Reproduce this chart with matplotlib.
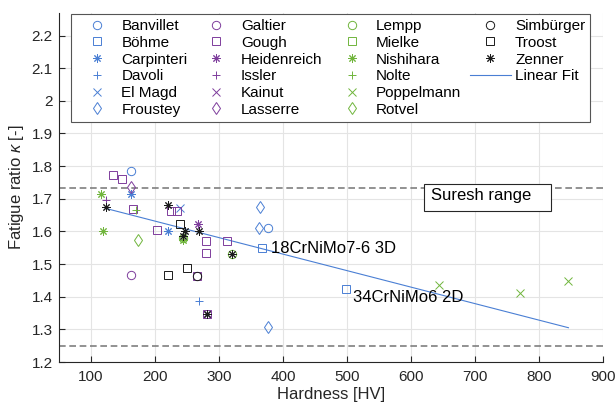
import matplotlib
matplotlib.use("Agg")
import matplotlib.pyplot as plt
from matplotlib.lines import Line2D
from matplotlib.patches import Rectangle

plt.rcParams['font.family'] = ['Liberation Sans', 'DejaVu Sans']
plt.rcParams['mathtext.fontset'] = 'custom'
plt.rcParams['mathtext.it'] = 'Liberation Sans:italic'
plt.rcParams['mathtext.rm'] = 'Liberation Sans'

# ---------------- data ----------------
banvillet_x = [162, 377]
banvillet_y = [1.785, 1.611]
boehme_x = [367, 499]
boehme_y = [1.548, 1.425]
carpinteri_x = [162, 220]
carpinteri_y = [1.715, 1.600]
davoli_x = [268]
davoli_y = [1.386]
elmagd_x = [239]
elmagd_y = [1.671]
froustey_x = [364, 363, 376]
froustey_y = [1.674, 1.611, 1.307]

galtier_x = [162]
galtier_y = [1.466]
gough_x = [135, 149, 165, 225, 235, 203, 280, 280, 312, 265, 282]
gough_y = [1.774, 1.762, 1.669, 1.664, 1.664, 1.603, 1.571, 1.535, 1.572, 1.463, 1.347]
heidenreich_x = [267, 282]
heidenreich_y = [1.622, 1.347]
issler_x = [123]
issler_y = [1.697]
kainut_x = []
kainut_y = []
lasserre_x = [162]
lasserre_y = [1.735]

lempp_x = [243, 320]
lempp_y = [1.580, 1.530]
mielke_x = []
mielke_y = []
nishihara_x = [116, 118, 243]
nishihara_y = [1.715, 1.600, 1.575]
nolte_x = [171]
nolte_y = [1.666]
poppelmann_x = [643, 771, 846]
poppelmann_y = [1.435, 1.410, 1.448]
rotvel_x = [174]
rotvel_y = [1.574]

simburger_x = [265]
simburger_y = [1.463]
troost_x = [239, 220, 250]
troost_y = [1.622, 1.466, 1.488]
zenner_x = [123, 221, 247, 268, 243, 320, 282]
zenner_y = [1.676, 1.682, 1.602, 1.602, 1.585, 1.530, 1.347]

fit_x = [122, 846]
fit_y = [1.671, 1.305]

suresh_low = 1.25
suresh_high = 1.733

x_ticks = [100, 200, 300, 400, 500, 600, 700, 800, 900]
y_ticks = [1.2, 1.3, 1.4, 1.5, 1.6, 1.7, 1.8, 1.9, 2.0, 2.1, 2.2]
y_tick_labels = ['1.2', '1.3', '1.4', '1.5', '1.6', '1.7', '1.8', '1.9', '2', '2.1', '2.2']

# ---------------- style ----------------
BLUE = '#4a7fd4'
PURPLE = '#7e3d9c'
GREEN = '#70b53c'
BLACK = '#1a1a1a'
AX = '#262626'
AST = (8, 2, 0)

series = [
    ('Banvillet', banvillet_x, banvillet_y, BLUE, 'o'),
    ('Böhme', boehme_x, boehme_y, BLUE, 's'),
    ('Carpinteri', carpinteri_x, carpinteri_y, BLUE, AST),
    ('Davoli', davoli_x, davoli_y, BLUE, '+'),
    ('El Magd', elmagd_x, elmagd_y, BLUE, 'x'),
    ('Froustey', froustey_x, froustey_y, BLUE, 'd'),
    ('Galtier', galtier_x, galtier_y, PURPLE, 'o'),
    ('Gough', gough_x, gough_y, PURPLE, 's'),
    ('Heidenreich', heidenreich_x, heidenreich_y, PURPLE, AST),
    ('Issler', issler_x, issler_y, PURPLE, '+'),
    ('Kainut', kainut_x, kainut_y, PURPLE, 'x'),
    ('Lasserre', lasserre_x, lasserre_y, PURPLE, 'd'),
    ('Lempp', lempp_x, lempp_y, GREEN, 'o'),
    ('Mielke', mielke_x, mielke_y, GREEN, 's'),
    ('Nishihara', nishihara_x, nishihara_y, GREEN, AST),
    ('Nolte', nolte_x, nolte_y, GREEN, '+'),
    ('Poppelmann', poppelmann_x, poppelmann_y, GREEN, 'x'),
    ('Rotvel', rotvel_x, rotvel_y, GREEN, 'd'),
    ('Simbürger', simburger_x, simburger_y, BLACK, 'o'),
    ('Troost', troost_x, troost_y, BLACK, 's'),
    ('Zenner', zenner_x, zenner_y, BLACK, AST),
]

fig = plt.figure(figsize=(6.16, 4.11), dpi=100)
ax = fig.add_axes([59 / 616, 1 - 362 / 411, 544 / 616, 349.3 / 411])

ax.set_xlim(50, 900)
ax.set_ylim(1.2, 2.27)

handles = []
labels = []
for name, xs, ys, col, mk in series:
    ms = 6.5 if mk == 'd' else 6
    h, = ax.plot(xs, ys, linestyle='none', marker=mk, markersize=ms,
                 markerfacecolor='none', markeredgecolor=col,
                 markeredgewidth=0.7, zorder=3)
    handles.append(h)
    labels.append(name)

hf, = ax.plot(fit_x, fit_y, color=BLUE, lw=0.8, zorder=2)
handles.append(hf)
labels.append('Linear Fit')
for _ in range(2):
    handles.append(Line2D([], [], linestyle='none'))
    labels.append('')

ax.axhline(suresh_high, color='#7f7f7f', lw=1.2, dashes=(4, 2.2), zorder=1)
ax.axhline(suresh_low, color='#7f7f7f', lw=1.2, dashes=(4, 2.2), zorder=1)

ax.add_patch(Rectangle((620.3, 1.664), 198.5, 0.082, facecolor='white',
                       edgecolor=AX, lw=0.8, zorder=4))
ax.text(631, 1.711, 'Suresh range', fontsize=12, va='center', ha='left',
        color='black', zorder=5)

ax.text(381, 1.548, '18CrNiMo7-6 3D', fontsize=12, va='center', ha='left',
        color='black', zorder=5)
ax.text(510, 1.399, '34CrNiMo6 2D', fontsize=12, va='center', ha='left',
        color='black', zorder=5)

ax.set_xticks(x_ticks)
ax.set_yticks(y_ticks)
ax.set_yticklabels(y_tick_labels)
ax.grid(True, color='#e4e4e4', lw=0.8, zorder=0)
ax.set_axisbelow(True)
for s in ['top', 'right']:
    ax.spines[s].set_visible(False)
for s in ['left', 'bottom']:
    ax.spines[s].set_color(AX)
    ax.spines[s].set_linewidth(0.8)
ax.tick_params(direction='in', length=4, width=0.8, color=AX,
               labelcolor=AX, labelsize=11)
ax.tick_params(axis='x', pad=6)
ax.tick_params(axis='y', pad=4.5)

ax.set_xlabel('Hardness [HV]', fontsize=12, color=AX, labelpad=2)
ax.set_ylabel(r'Fatigue ratio $\kappa$ [-]', fontsize=12, color=AX, labelpad=4)

leg = ax.legend(handles, labels, ncol=4, loc='upper left',
                bbox_to_anchor=((71 - 59) / 544, (362 - 14) / 349.3),
                borderaxespad=0, fontsize=11, frameon=True, fancybox=False,
                edgecolor='#555555', framealpha=1, handlelength=2.7,
                handletextpad=0.26, columnspacing=0.55, labelspacing=0.18,
                borderpad=0.33, numpoints=1)
leg.get_frame().set_linewidth(0.8)
leg.set_zorder(6)

fig.savefig('out.png', dpi=100)
